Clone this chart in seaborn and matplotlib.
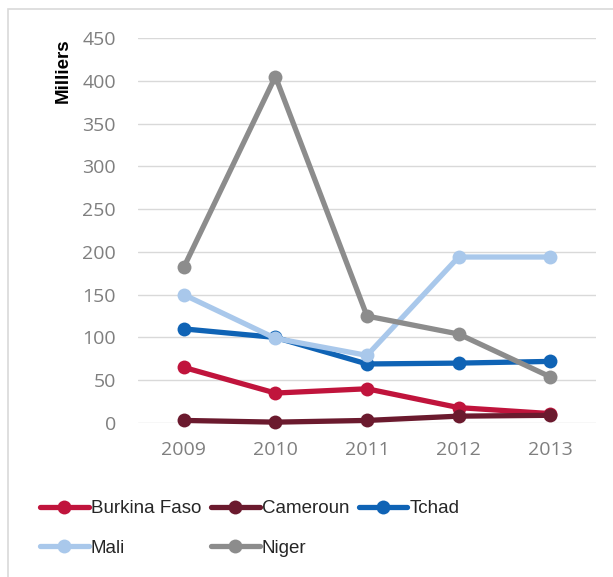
import matplotlib
matplotlib.use("Agg")
import matplotlib.pyplot as plt
from matplotlib.patches import Rectangle
import seaborn as sns
import pandas as pd

years = ["2009", "2010", "2011", "2012", "2013"]
burkina_faso = [65, 35, 40, 18, 11]
cameroun = [3, 1, 3, 8, 9]
tchad = [110, 100, 69, 70, 72]
mali = [150, 99, 79, 194, 194]
niger = [182, 405, 125, 104, 54]
y_ticks = [0, 50, 100, 150, 200, 250, 300, 350, 400, 450]

countries = ["Burkina Faso", "Cameroun", "Tchad", "Mali", "Niger"]
colors = ["#C0143C", "#6B1A2E", "#0F63B5", "#A9C8EB", "#8C8C8C"]
series = [burkina_faso, cameroun, tchad, mali, niger]

df = pd.DataFrame({
    "year": years * len(countries),
    "value": [v for s in series for v in s],
    "country": [c for c in countries for _ in years],
})

sns.set_theme(style="white")
plt.rcParams["font.family"] = ["Liberation Sans", "DejaVu Sans"]

fig = plt.figure(figsize=(6.13, 5.77), dpi=100)
ax = fig.add_axes([138 / 613, 1 - 423 / 577, (596 - 138) / 613, (423 - 38) / 577])

sns.lineplot(data=df, x="year", y="value", hue="country", hue_order=countries,
             palette=colors, marker="o", markersize=10, markeredgewidth=0,
             linewidth=3.8, sort=False, ax=ax, legend=True, clip_on=False)

tick_font = {"family": ["Open Sans", "DejaVu Sans"], "size": 14, "color": "#7F7F7F"}
ax.set_ylim(0, 450)
ax.set_yticks(y_ticks, labels=[str(t) for t in y_ticks], fontdict=tick_font)
ax.set_xlim(-0.5, 4.5)
ax.set_xticks(range(len(years)), labels=years, fontdict=tick_font)
ax.grid(axis="y", color="#D9D9D9", linewidth=1)
ax.set_axisbelow(True)
for s in ax.spines.values():
    s.set_visible(False)
ax.tick_params(axis="y", length=0, pad=16)
ax.tick_params(axis="x", length=0, pad=13)
ax.set_xlabel("")
ax.set_ylabel("")

fig.text(63 / 613, 1 - 71 / 577, "Milliers", rotation=90, ha="center", va="center",
         fontsize=13.5, fontweight="bold", color="black")

handles, labels = ax.get_legend_handles_labels()
ax.get_legend().remove()
hmap = dict(zip(labels, handles))
order = ["Burkina Faso", "Mali", "Cameroun", "Niger", "Tchad"]
fig.legend([hmap[k] for k in order], order, loc="upper left",
           bbox_to_anchor=(40 / 613, 1 - 500 / 577), ncol=3, frameon=False,
           handlelength=2.6, handletextpad=0.12, columnspacing=0.5,
           labelspacing=1.2, borderpad=0, borderaxespad=0,
           prop={"size": 13.5})

fig.patches.append(Rectangle((8 / 613, -0.05), 1.2, 1.05 - 9 / 577,
                             transform=fig.transFigure, fill=False,
                             edgecolor="#D9D9D9", linewidth=1.2))

fig.savefig("out.png", dpi=100)
